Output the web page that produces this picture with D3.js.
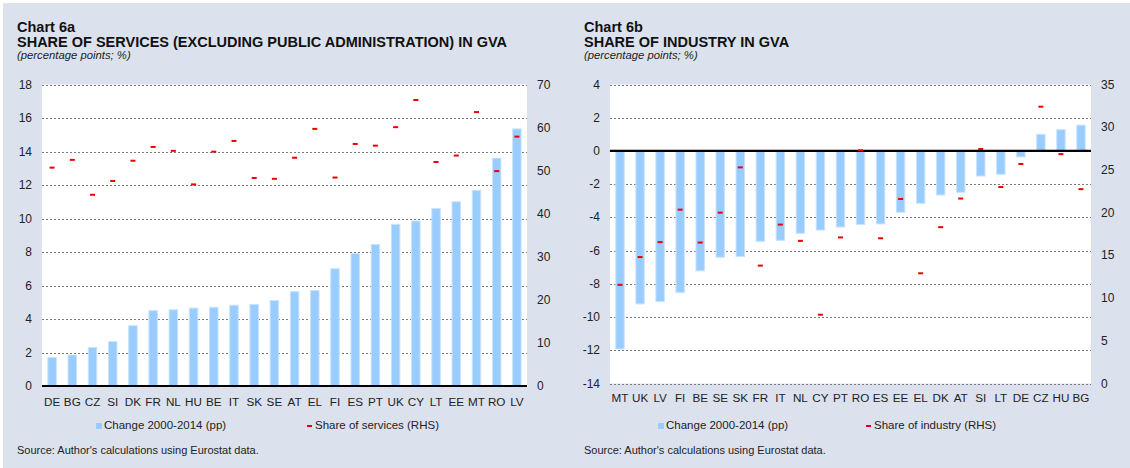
<!DOCTYPE html>
<html lang="en">
<head>
<meta charset="UTF-8">
<title>Charts 6a and 6b</title>
<script src="https://d3js.org/d3.v7.min.js"></script>
<style>
    body { margin: 0; background: #fff; }
    svg { display: block; font-family: Arial, "Liberation Sans", sans-serif; }
    .grid line { stroke: #7a7a7a; stroke-width: 1; stroke-dasharray: 2, 2; }
    .tick-label { font-size: 12px; fill: #222; }
    .cat-label { font-size: 11.7px; fill: #222; }
    .legend-label { font-size: 11.5px; fill: #222; }
</style>
</head>
<body>
<svg id="chart" width="1130" height="468"></svg>
<script>
// Chart 6a - services
const servicesCountries = ["DE","BG","CZ","SI","DK","FR","NL","HU","BE","IT","SK","SE",
                           "AT","EL","FI","ES","PT","UK","CY","LT","EE","MT","RO","LV"];
const servicesChange = [1.7, 1.85, 2.3, 2.65, 3.6, 4.5, 4.55, 4.65, 4.7, 4.82, 4.87, 5.1,
                        5.63, 5.7, 7.0, 7.9, 8.45, 9.65, 9.85, 10.6, 11.0, 11.68, 13.6, 15.35];
const servicesShare = [50.7, 52.5, 44.4, 47.6, 52.3, 55.5, 54.6, 46.8, 54.4, 56.9, 48.3, 48.1,
                       53.0, 59.7, 48.4, 56.2, 55.8, 60.1, 66.4, 52.0, 53.5, 63.6, 49.9, 57.9];
const servicesLeftTicks = [0, 2, 4, 6, 8, 10, 12, 14, 16, 18];
const servicesRightTicks = [0, 10, 20, 30, 40, 50, 60, 70];

// Chart 6b - industry
const industryCountries = ["MT","UK","LV","FI","BE","SE","SK","FR","IT","NL","CY","PT","RO",
                           "ES","EE","EL","DK","AT","SI","LT","DE","CZ","HU","BG"];
const industryChange = [-11.92, -9.21, -9.07, -8.53, -7.22, -6.4, -6.36, -5.44, -5.38, -4.96, -4.76, -4.58, -4.43,
                        -4.39, -3.69, -3.15, -2.65, -2.49, -1.51, -1.4, -0.36, 1.0, 1.28, 1.55];
const industryShare = [11.55, 14.8, 16.55, 20.35, 16.5, 20.0, 25.3, 13.8, 18.6, 16.7, 8.05, 17.1, 27.3,
                       17.0, 21.6, 12.9, 18.3, 21.65, 27.45, 23.0, 25.7, 32.4, 26.85, 22.75];
const industryLeftTicks = [-14, -12, -10, -8, -6, -4, -2, 0, 2, 4];
const industryRightTicks = [0, 5, 10, 15, 20, 25, 30, 35];

const barColor = "#99ccff";
const markColor = "#ee0000";

const svg = d3.select("#chart");

// outer background (thin white frame at top and left)
svg.append("rect").attr("x", 3).attr("y", 3).attr("width", 1127).attr("height", 465)
    .attr("fill", "#dbe2ee");

function drawPanel(opt) {
    const g = svg.append("g");

    const x = d3.scaleBand().domain(opt.categories).range([opt.x0, opt.x1]).padding(0);
    const y = d3.scaleLinear().domain(opt.leftDomain).range([opt.y1, opt.y0]);
    const y2 = d3.scaleLinear().domain(opt.rightDomain).range([opt.y1, opt.y0]);

    // titles
    g.append("text").attr("x", opt.tx).attr("y", 31.5)
        .style("font-size", "14.5px").style("font-weight", "bold").attr("fill", "#111")
        .text(opt.label);
    g.append("text").attr("x", opt.tx).attr("y", 46.5)
        .style("font-size", "14.5px").style("font-weight", "bold").attr("fill", "#111")
        .text(opt.title);
    g.append("text").attr("x", opt.tx).attr("y", 59)
        .style("font-size", "11.3px").style("font-style", "italic").attr("fill", "#222")
        .text("(percentage points; %)");

    // plot background
    g.append("rect").attr("x", opt.x0).attr("y", opt.y0)
        .attr("width", opt.x1 - opt.x0).attr("height", opt.y1 - opt.y0)
        .attr("fill", "#fff");

    // gridlines
    g.append("g").attr("class", "grid")
        .selectAll("line")
        .data(opt.leftTicks.filter(d => d !== 0))
        .join("line")
        .attr("x1", opt.x0).attr("x2", opt.x1)
        .attr("y1", d => Math.round(y(d)) + 0.5).attr("y2", d => Math.round(y(d)) + 0.5);

    // bars
    const bw = x.bandwidth() * 0.42;
    g.append("g").selectAll("rect")
        .data(opt.categories)
        .join("rect")
        .attr("x", (d) => x(d) + (x.bandwidth() - bw) / 2)
        .attr("width", bw)
        .attr("y", (d, i) => y(Math.max(0, opt.change[i])))
        .attr("height", (d, i) => Math.abs(y(opt.change[i]) - y(0)))
        .attr("fill", barColor)
        .attr("stroke", "#c8e3ff")
        .attr("stroke-width", 1);

    // zero line
    g.append("line")
        .attr("x1", opt.x0).attr("x2", opt.x1)
        .attr("y1", y(0)).attr("y2", y(0))
        .attr("stroke", "#000").attr("stroke-width", 2.2);

    // share markers (RHS)
    g.append("g").selectAll("rect")
        .data(opt.categories)
        .join("rect")
        .attr("x", d => x(d) + x.bandwidth() / 2 - 2.5)
        .attr("y", (d, i) => y2(opt.share[i]) - 1)
        .attr("width", 5)
        .attr("height", 2)
        .attr("fill", markColor);

    // left axis labels
    g.append("g").selectAll("text")
        .data(opt.leftTicks)
        .join("text")
        .attr("class", "tick-label")
        .attr("x", opt.x0 - 10)
        .attr("y", d => y(d) + 4)
        .attr("text-anchor", "end")
        .text(d => d);

    // right axis labels
    g.append("g").selectAll("text")
        .data(opt.rightTicks)
        .join("text")
        .attr("class", "tick-label")
        .attr("x", opt.x1 + 10)
        .attr("y", d => y2(d) + 4)
        .attr("text-anchor", "start")
        .text(d => d);

    // category labels
    g.append("g").selectAll("text")
        .data(opt.categories)
        .join("text")
        .attr("class", "cat-label")
        .attr("x", d => x(d) + x.bandwidth() / 2)
        .attr("y", opt.catY)
        .attr("text-anchor", "middle")
        .text(d => d);

    // legend
    g.append("rect").attr("x", opt.legX).attr("y", 423).attr("width", 6).attr("height", 6)
        .attr("fill", barColor);
    g.append("text").attr("x", opt.legX + 8).attr("y", 429).attr("class", "legend-label")
        .text("Change 2000-2014 (pp)");
    g.append("rect").attr("x", opt.legX2).attr("y", 425).attr("width", 5).attr("height", 2)
        .attr("fill", markColor);
    g.append("text").attr("x", opt.legX2 + 8).attr("y", 429).attr("class", "legend-label")
        .text(opt.shareLabel);

    // source
    g.append("text").attr("x", opt.tx).attr("y", 454)
        .style("font-size", "11px").attr("fill", "#222")
        .text("Source: Author's calculations using Eurostat data.");
}

drawPanel({
    label: "Chart 6a",
    title: "SHARE OF SERVICES (EXCLUDING PUBLIC ADMINISTRATION) IN GVA",
    shareLabel: "Share of services (RHS)",
    categories: servicesCountries,
    change: servicesChange,
    share: servicesShare,
    leftTicks: servicesLeftTicks,
    rightTicks: servicesRightTicks,
    leftDomain: [0, 18],
    rightDomain: [0, 70],
    x0: 42, x1: 527, y0: 84.5, y1: 386,
    tx: 17, catY: 406, legX: 96, legX2: 307
});

drawPanel({
    label: "Chart 6b",
    title: "SHARE OF INDUSTRY IN GVA",
    shareLabel: "Share of industry (RHS)",
    categories: industryCountries,
    change: industryChange,
    share: industryShare,
    leftTicks: industryLeftTicks,
    rightTicks: industryRightTicks,
    leftDomain: [-14, 4],
    rightDomain: [0, 35],
    x0: 610, x1: 1091, y0: 84.5, y1: 383.5,
    tx: 584, catY: 402, legX: 658, legX2: 866
});
</script>
</body>
</html>
